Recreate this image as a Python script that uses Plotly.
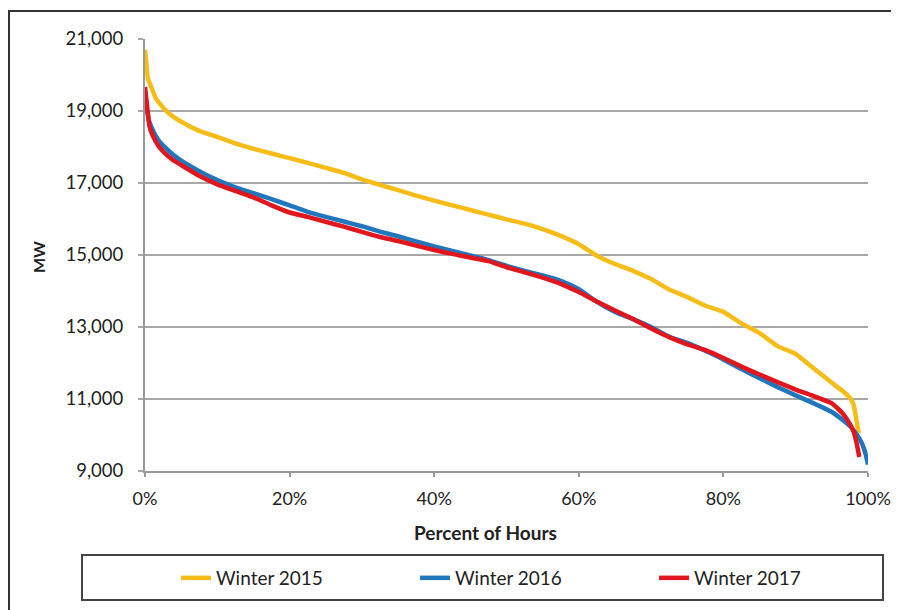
import plotly.graph_objects as go

# ---- data ----
pct_2015 = [0, 0.2, 0.4, 0.8, 1.5, 2.5, 3.5, 5, 7.5, 10, 12.5, 15, 17.5, 20, 22.5, 25, 27.5, 30,
            32.5, 35, 37.5, 40, 42.5, 45, 47.5, 50, 52.5, 55, 57.5, 60, 62.5, 65, 67.5, 70,
            72.5, 75, 77.5, 80, 82.5, 85, 87.5, 90, 92.5, 95, 96.5, 97.5, 98, 98.5, 98.7]
mw_2015 = [20700, 20300, 19900, 19700, 19350, 19100, 18900, 18700, 18450, 18280, 18100, 17950,
           17820, 17690, 17560, 17420, 17280, 17100, 16950, 16800, 16650, 16510, 16380, 16250,
           16120, 15990, 15870, 15720, 15530, 15300, 14980, 14750, 14560, 14330, 14040, 13830,
           13590, 13420, 13100, 12830, 12470, 12250, 11850, 11450, 11220, 11030, 10850, 10300, 10050]

pct_2016 = [0, 0.3, 0.6, 1, 1.5, 2, 3, 4, 5, 7.5, 10, 12.5, 15, 17.5, 20, 22.5, 25, 27.5, 30,
            32.5, 35, 37.5, 40, 42.5, 45, 47.5, 50, 52.5, 55, 57.5, 60, 62.5, 65, 67.5, 70,
            72.5, 75, 77.5, 80, 82.5, 85, 87.5, 90, 92.5, 95, 96.5, 97.5, 98.5, 99.2, 99.7, 100]
mw_2016 = [19550, 19000, 18700, 18500, 18300, 18150, 17950, 17770, 17620, 17330, 17080, 16880,
           16720, 16550, 16380, 16200, 16060, 15930, 15800, 15650, 15520, 15380, 15240, 15110,
           14990, 14860, 14700, 14560, 14430, 14280, 14050, 13700, 13420, 13220, 13000, 12730,
           12560, 12340, 12100, 11830, 11580, 11330, 11100, 10880, 10640, 10420, 10250, 10000,
           9750, 9450, 9180]

pct_2017 = [0, 0.3, 0.6, 1, 1.5, 2, 3, 4, 5, 7.5, 10, 12.5, 15, 17.5, 20, 22.5, 25, 27.5, 30,
            32.5, 35, 37.5, 40, 42.5, 45, 47.5, 50, 52.5, 55, 57.5, 60, 62.5, 65, 67.5, 70,
            72.5, 75, 77.5, 80, 82.5, 85, 87.5, 90, 92.5, 95, 96.5, 97.5, 98, 98.4, 98.8]
mw_2017 = [19670, 19100, 18600, 18350, 18150, 17990, 17780, 17620, 17500, 17200, 16960, 16780,
           16600, 16380, 16180, 16060, 15920, 15790, 15640, 15500, 15390, 15260, 15140, 15030,
           14930, 14830, 14660, 14520, 14370, 14200, 13970, 13710, 13460, 13220, 12960, 12720,
           12520, 12360, 12140, 11900, 11680, 11470, 11260, 11080, 10880, 10600, 10300, 10100,
           9800, 9390]

y_ticks = [9000, 11000, 13000, 15000, 17000, 19000, 21000]
x_ticks = [0, 20, 40, 60, 80, 100]
x_tick_labels = ["0%", "20%", "40%", "60%", "80%", "100%"]
series_names = ["Winter 2015", "Winter 2016", "Winter 2017"]
colors = ["#F6BC18", "#2177BD", "#E1161E"]

FONT = "Lato, 'Open Sans', sans-serif"
TXT = "#222222"

fig = go.Figure()
for name, xs, ys, c in zip(series_names, [pct_2015, pct_2016, pct_2017],
                           [mw_2015, mw_2016, mw_2017], colors):
    fig.add_trace(go.Scatter(x=xs, y=ys, mode="lines", name=name,
                             line=dict(color=c, width=4.5, shape="spline", smoothing=0.4)))

# page has an 8px body margin -> figure coords = screen coords - 8
OFF = 8
W, H = 899 - OFF, 610 - OFF
L, R, T, B = 145 - OFF, 899 - 868, 39 - OFF, 610 - 471
pw, ph = W - L - R, H - T - B

def px_x(p):  # screen px -> paper
    return (p - OFF - L) / pw

def px_y(p):
    return (H - B - (p - OFF)) / ph

fig.update_layout(
    width=W, height=H,
    margin=dict(l=L, r=R, t=T, b=B, autoexpand=False),
    paper_bgcolor="white", plot_bgcolor="white",
    font=dict(family=FONT, size=18, color=TXT),
    showlegend=True,
    legend=dict(orientation="h", x=px_x(176), xanchor="left", y=px_y(578), yanchor="middle",
                entrywidth=194, entrywidthmode="pixels", bgcolor="rgba(0,0,0,0)",
                font=dict(family=FONT, size=19, color=TXT), borderwidth=0),
    xaxis=dict(range=[0, 100], tickvals=x_ticks, ticktext=x_tick_labels, showgrid=False,
               showline=True, linecolor="#9A9A9A", linewidth=1.5, ticks="outside",
               ticklen=4, tickcolor="#9A9A9A", tickwidth=1.5, zeroline=False,
               ticklabelstandoff=7,
               tickfont=dict(family=FONT, size=18, color=TXT)),
    yaxis=dict(range=[9000, 21000], tickvals=y_ticks, tickformat=",", showgrid=True,
               gridcolor="#A8A8A8", gridwidth=2, showline=True, linecolor="#9A9A9A",
               linewidth=2, ticks="outside", ticklen=5, tickcolor="#A8A8A8", tickwidth=2,
               zeroline=False, ticklabelstandoff=11,
               tickfont=dict(family=FONT, size=18.5, color=TXT)),
    annotations=[
        dict(text="<b>MW</b>", xref="paper", yref="paper", x=px_x(38), y=px_y(257),
             textangle=-90, showarrow=False, xanchor="center", yanchor="middle",
             font=dict(family=FONT, size=16, color=TXT)),
        dict(text="<b>Percent of Hours</b>", xref="paper", yref="paper", x=px_x(485),
             y=px_y(532), showarrow=False, xanchor="center", yanchor="middle",
             font=dict(family=FONT, size=19, color=TXT)),
    ],
    shapes=[
        dict(type="rect", xref="paper", yref="paper", x0=px_x(9), x1=px_x(896),
             y0=px_y(614), y1=px_y(11), line=dict(color="#333333", width=2), layer="below"),
        dict(type="rect", xref="paper", yref="paper", x0=px_x(82), x1=px_x(883),
             y0=px_y(600), y1=px_y(555), line=dict(color="#444444", width=2), layer="below"),
    ],
)

fig.write_html("out.html")
